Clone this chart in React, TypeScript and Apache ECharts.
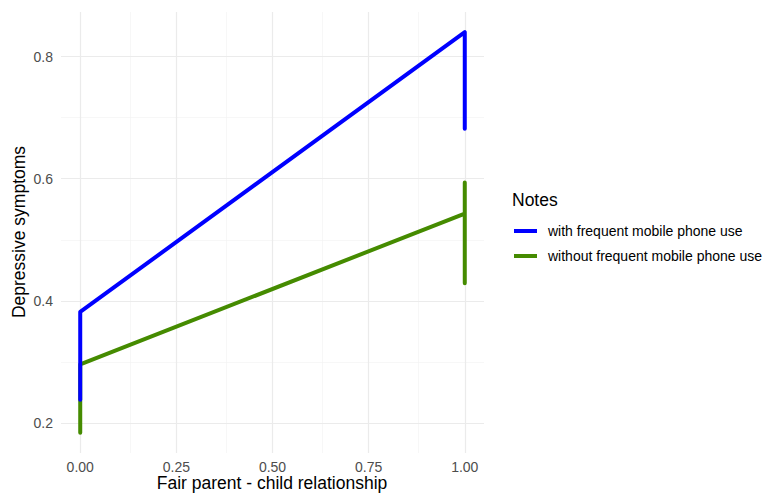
import React, { useEffect, useRef } from "react";
import * as echarts from "echarts";

const xTicks = [0, 0.25, 0.5, 0.75, 1];
const xMinor = [0.125, 0.375, 0.625, 0.875];
const yTicks = [0.2, 0.4, 0.6, 0.8];
const yMinor = [0.3, 0.5, 0.7];
const seriesNames = ["with frequent mobile phone use", "without frequent mobile phone use"];
const withUse: [number, number][] = [
  [0, 0.238],
  [0, 0.382],
  [1, 0.84],
  [1, 0.682],
];
const withoutUse: [number, number][] = [
  [0, 0.184],
  [0, 0.296],
  [1, 0.543],
  [1, 0.594],
  [1, 0.429],
];
const colors = ["#0000FF", "#458B00"];
const xTitle = "Fair parent - child relationship";
const yTitle = "Depressive symptoms";
const legendTitle = "Notes";

export default function App() {
  const ref = useRef<HTMLDivElement>(null);
  useEffect(() => {
    if (!ref.current) return;
    const chart = echarts.init(ref.current, undefined, { renderer: "svg" });
    const font = "'Liberation Sans', Arial, sans-serif";
    const gridMark = (vals: number[], axis: "xAxis" | "yAxis", w: number, c: string) =>
      vals.map((v) => ({ [axis]: v, lineStyle: { color: c, width: w, type: "solid" } }));
    chart.setOption({
      animation: false,
      textStyle: { fontFamily: font },
      grid: { left: 61, right: 283, top: 12, bottom: 40, outerBoundsMode: "none", containLabel: false },
      xAxis: {
        type: "value",
        min: -0.05,
        max: 1.05,
        axisLine: { show: false },
        axisTick: { show: false },
        splitLine: { show: false },
        axisLabel: {
          customValues: xTicks,
          formatter: (v: number) => v.toFixed(2),
          color: "#4d4d4d",
          fontSize: 14,
          margin: 7,
          fontFamily: font,
        },
      },
      yAxis: {
        type: "value",
        min: 0.151,
        max: 0.873,
        axisLine: { show: false },
        axisTick: { show: false },
        splitLine: { show: false },
        axisLabel: {
          customValues: yTicks,
          formatter: (v: number) => v.toFixed(1),
          color: "#4d4d4d",
          fontSize: 14,
          margin: 8,
          fontFamily: font,
        },
      },
      legend: {
        orient: "vertical",
        left: 514,
        top: 224,
        padding: 0,
        itemWidth: 23,
        itemHeight: 4,
        itemGap: 11,
        icon: "rect",
        data: seriesNames,
        textStyle: { fontSize: 14, color: "#000", fontFamily: font, padding: [0, 0, 0, 6] },
      },
      graphic: [
        {
          type: "text",
          left: 512,
          top: 191,
          style: { text: legendTitle, fontSize: 17.5, fill: "#000", fontFamily: font },
        },
        {
          type: "text",
          x: 272,
          y: 483,
          style: {
            text: xTitle,
            fontSize: 17.5,
            fill: "#000",
            fontFamily: font,
            textAlign: "center",
            textVerticalAlign: "middle",
          },
        },
        {
          type: "text",
          x: 19,
          y: 232,
          rotation: Math.PI / 2,
          style: {
            text: yTitle,
            fontSize: 17.5,
            fill: "#000",
            fontFamily: font,
            textAlign: "center",
            textVerticalAlign: "middle",
          },
        },
      ],
      series: [
        {
          type: "line",
          name: "grid",
          data: [],
          z: 1,
          silent: true,
          markLine: {
            silent: true,
            z: 1,
            symbol: "none",
            label: { show: false },
            animation: false,
            data: [
              ...gridMark(xMinor, "xAxis", 0.6, "#f2f2f2"),
              ...gridMark(yMinor, "yAxis", 0.6, "#f2f2f2"),
              ...gridMark(xTicks, "xAxis", 1.2, "#ebebeb"),
              ...gridMark(yTicks, "yAxis", 1.2, "#ebebeb"),
            ],
          },
        },
        {
          type: "line",
          name: seriesNames[1],
          data: withoutUse,
          z: 3,
          showSymbol: false,
          symbol: "none",
          color: colors[1],
          lineStyle: { width: 4, color: colors[1], cap: "round", join: "round" },
        },
        {
          type: "line",
          name: seriesNames[0],
          data: withUse,
          z: 4,
          showSymbol: false,
          symbol: "none",
          color: colors[0],
          lineStyle: { width: 4, color: colors[0], cap: "round", join: "round" },
        },
      ],
    });
    return () => chart.dispose();
  }, []);
  return (
    <div
      ref={ref}
      style={{ position: "absolute", left: 0, top: 0, width: 767, height: 493 }}
    />
  );
}
